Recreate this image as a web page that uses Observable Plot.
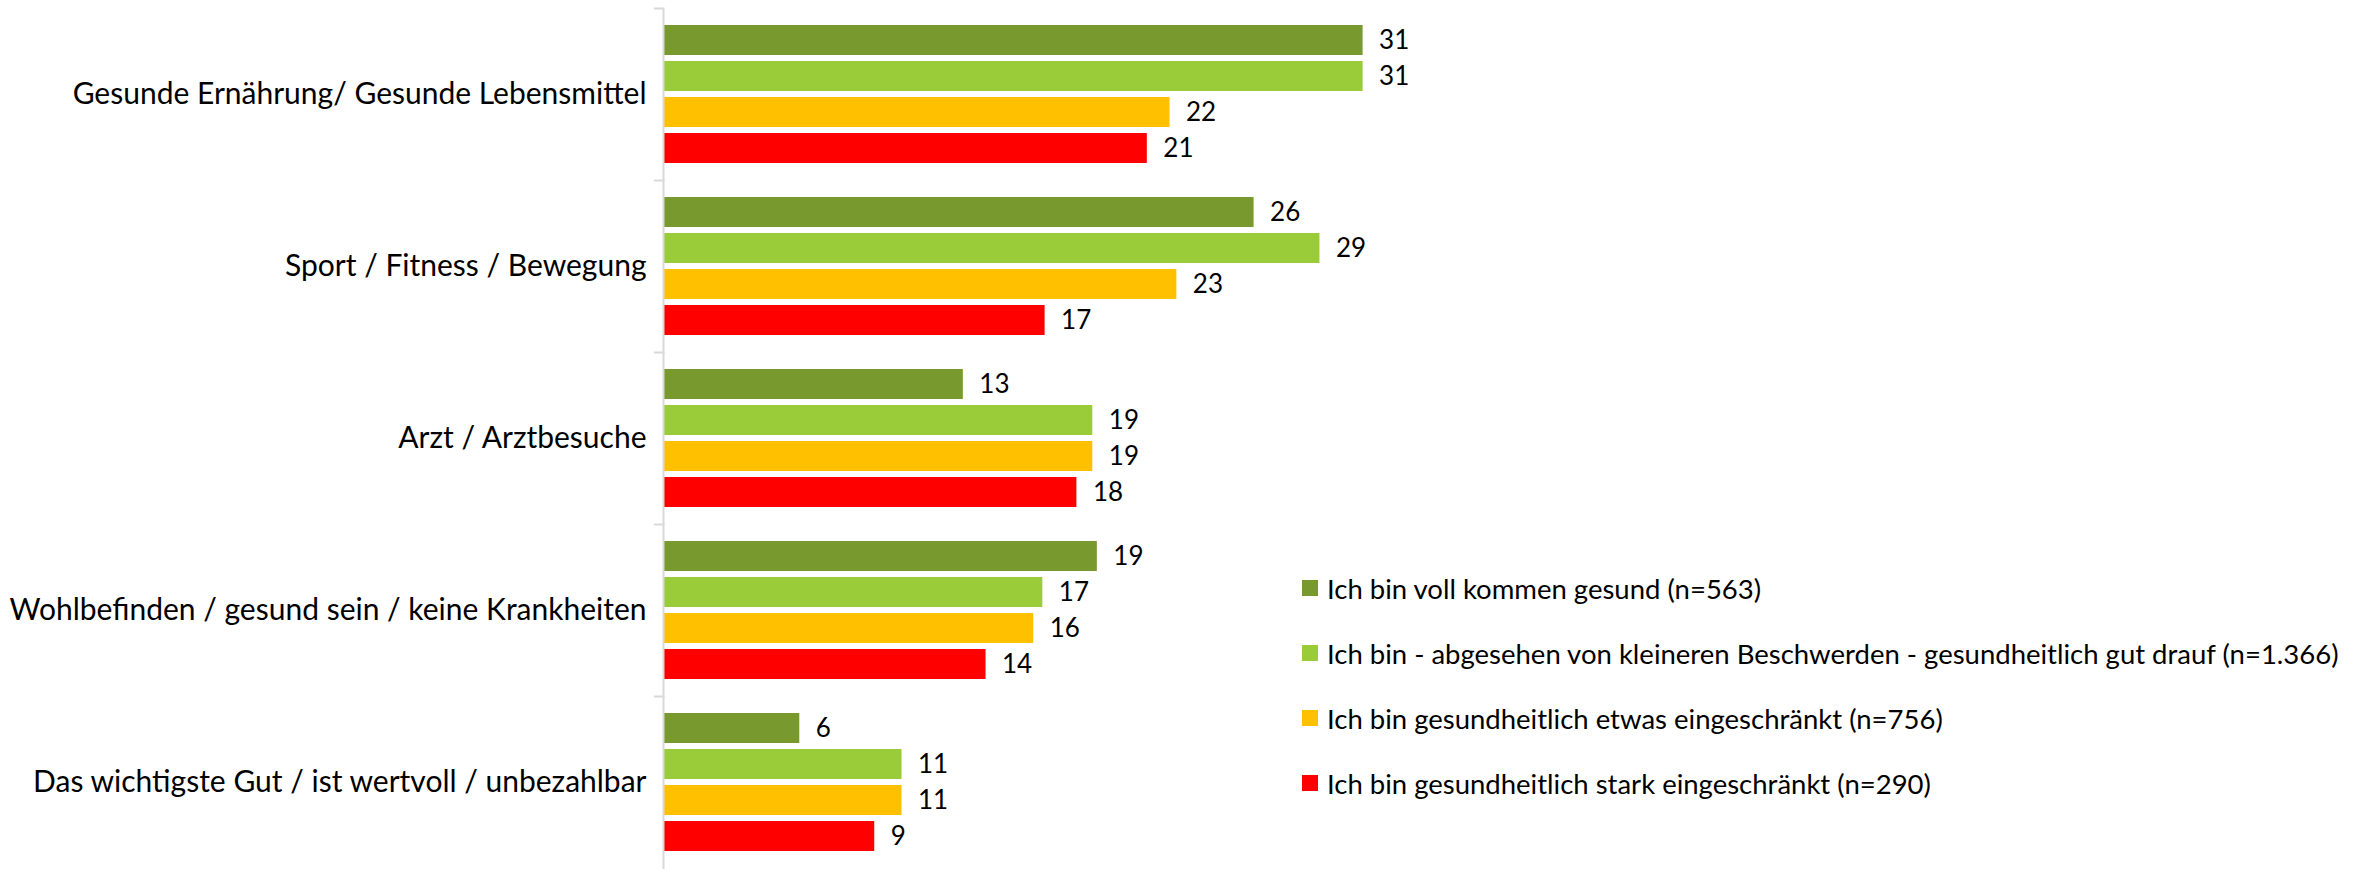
<!DOCTYPE html>
<html>
<head>
<meta charset="utf-8">
<script src="https://cdn.jsdelivr.net/npm/d3@7"></script>
<script src="https://cdn.jsdelivr.net/npm/@observablehq/plot@0.6"></script>
<style>
  html, body { margin: 0; padding: 0; background: #fff; }
  #wrap { position: relative; width: 2354px; height: 869px; font-family: Lato, "Noto Sans", sans-serif; }
  #legend { position: absolute; left: 1302px; top: 571px; }
  .item { display: flex; align-items: center; height: 34px; margin-bottom: 31px; font-size: 27.5px; color: #000; white-space: nowrap; }
  .sw { width: 16px; height: 16px; margin-right: 9px; flex: none; }
</style>
</head>
<body>
<div id="wrap"><div id="legend"></div></div>
<script>
const categories = [
  "Gesunde Ernährung/ Gesunde Lebensmittel",
  "Sport / Fitness / Bewegung",
  "Arzt / Arztbesuche",
  "Wohlbefinden / gesund sein / keine Krankheiten",
  "Das wichtigste Gut / ist wertvoll / unbezahlbar"
];
const series = [
  "Ich bin voll kommen gesund (n=563)",
  "Ich bin - abgesehen von kleineren Beschwerden - gesundheitlich gut drauf (n=1.366)",
  "Ich bin gesundheitlich etwas eingeschränkt (n=756)",
  "Ich bin gesundheitlich stark eingeschränkt (n=290)"
];
const colors = ["#77992d", "#9acc3a", "#ffc000", "#ff0000"];
// values (labels show rounded values)
const vollGesund = [30.8, 26.0, 13.2, 19.1, 6.0];
const gutDrauf   = [30.8, 28.9, 18.9, 16.7, 10.5];
const etwas      = [22.3, 22.6, 18.9, 16.3, 10.5];
const stark      = [21.3, 16.8, 18.2, 14.2, 9.3];

const seriesValues = [vollGesund, gutDrauf, etwas, stark];
const rows = [];
categories.forEach((c, i) => {
  series.forEach((s, j) => rows.push({category: c, series: s, value: seriesValues[j][i]}));
});

const boundaryTicks = (index, scales, values, dimensions) => {
  const g = d3.create("svg:g");
  g.append("line")
    .attr("x1", dimensions.marginLeft - 9).attr("x2", dimensions.marginLeft)
    .attr("y1", dimensions.marginTop + 0.5).attr("y2", dimensions.marginTop + 0.5)
    .attr("stroke", "#d9d9d9").attr("stroke-width", 2);
  return g.node();
};

const chart = Plot.plot({
  width: 2354,
  height: 869,
  marginLeft: 663,
  marginRight: 896,
  marginTop: 7,
  marginBottom: 0,
  style: {fontFamily: "Lato, 'Noto Sans', sans-serif", background: "white"},
  x: {domain: [0, 35], axis: null},
  y: {domain: series, axis: null, paddingInner: 0.17, paddingOuter: 0.41},
  fy: {domain: categories, padding: 0},
  color: {domain: series, range: colors},
  marks: [
    Plot.barX(rows, {fy: "category", y: "series", x: "value", fill: "series"}),
    Plot.text(rows, {fy: "category", y: "series", x: "value", text: d => String(Math.round(d.value)),
      textAnchor: "start", dx: 16, fontSize: 26, fill: "#000"}),
    Plot.axisFy({anchor: "left", label: null, tickSize: 0, tickPadding: 17, fontSize: 30, fill: "#000"}),
    Plot.frame({anchor: "left", stroke: "#d9d9d9", strokeWidth: 2}),
    boundaryTicks
  ]
});
document.getElementById("wrap").prepend(chart);

const legend = document.getElementById("legend");
series.forEach((s, j) => {
  const item = document.createElement("div");
  item.className = "item";
  const sw = document.createElement("span");
  sw.className = "sw";
  sw.style.background = colors[j];
  const t = document.createElement("span");
  t.textContent = s;
  item.append(sw, t);
  legend.append(item);
});
</script>
</body>
</html>
